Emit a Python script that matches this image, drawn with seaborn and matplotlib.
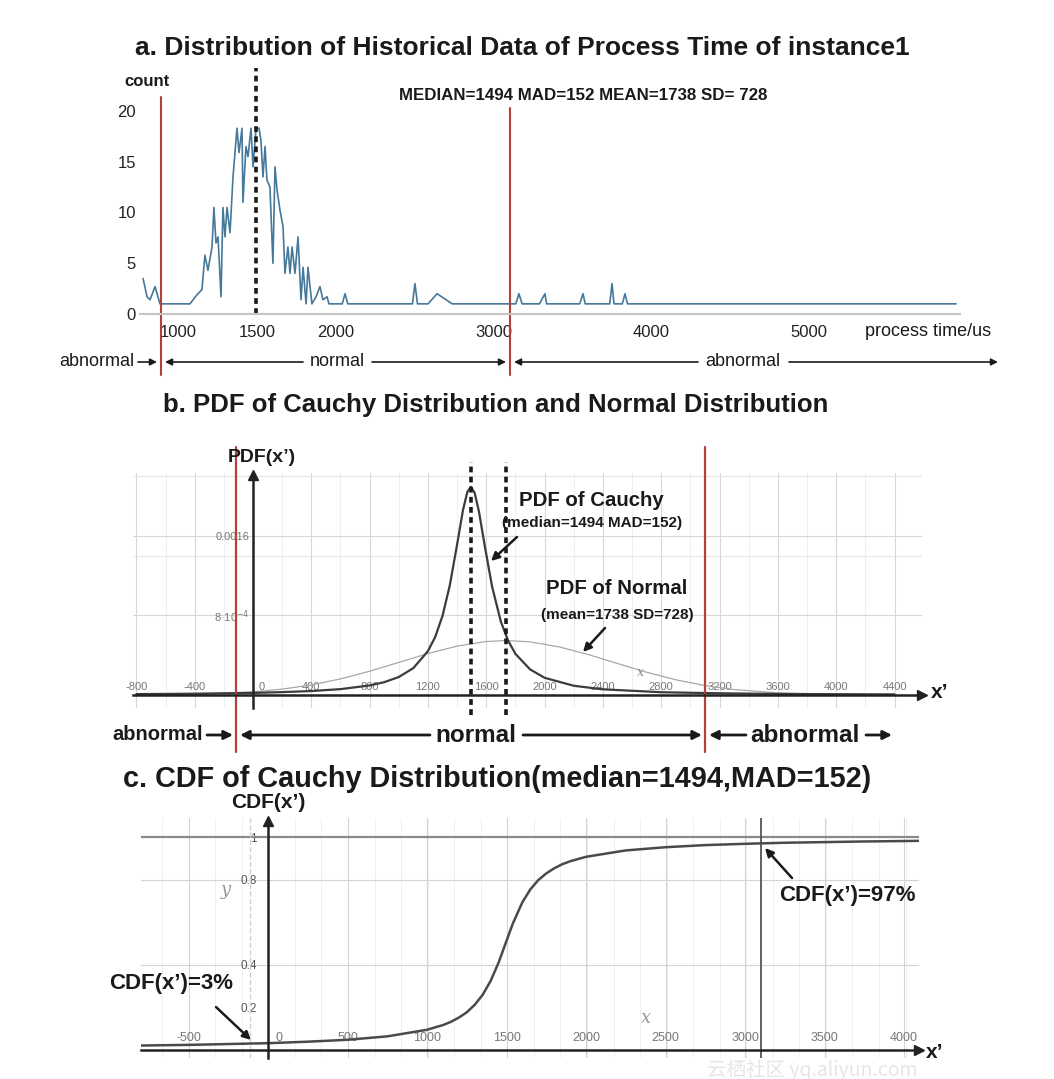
import matplotlib
matplotlib.use("Agg")
import matplotlib.pyplot as plt
from matplotlib.ticker import FixedLocator, MultipleLocator
from matplotlib.transforms import ScaledTranslation
import seaborn as sns

# ---------------- data ----------------
# panel a: counts of historical process time (us)
proc_time = [778, 803, 822, 854, 885, 917, 1075, 1120, 1151, 1170, 1189, 1215, 1227, 1240,
             1253, 1272, 1284, 1297, 1310, 1329, 1348, 1373, 1386, 1405, 1411, 1430, 1443,
             1462, 1475, 1494, 1513, 1525, 1538, 1551, 1563, 1582, 1601, 1614, 1627, 1646,
             1665, 1677, 1696, 1709, 1722, 1741, 1760, 1779, 1792, 1811, 1823, 1848, 1874,
             1899, 1918, 1944, 1956, 2040, 2058, 2075, 2485, 2501, 2517, 2584, 2641, 2737,
             3140, 3160, 3180, 3290, 3325, 3335, 3545, 3566, 3580, 3735, 3750, 3762, 3815,
             3832, 3848, 5930]
counts = [3.5, 1.7, 1.4, 2.7, 1, 1, 1, 1.9, 2.4, 5.8, 4.3, 6.6, 10.5, 7,
          7.6, 1.7, 10.5, 7.6, 10.5, 8, 13.5, 18.3, 15.9, 18.3, 11, 16.5, 15.5,
          18.3, 14.5, 18.3, 18.3, 17.1, 13.5, 16.5, 13.2, 12.5, 5, 14.5, 12.2, 10.2,
          8.6, 4, 6.6, 4, 6.6, 4, 7.6, 1.4, 4.6, 1, 4.6, 1, 1.7,
          2.7, 1.4, 1.7, 1, 1, 2, 1, 1, 3, 1, 1, 2, 1,
          1, 2, 1, 1, 2, 1, 1, 2, 1, 1, 3, 1, 1,
          2, 1, 1]
a_ticks = [1000, 1500, 2000, 3000, 4000, 5000]
a_bounds = [890, 3102]
a_red_top = [21.4, 20.3]

# panel b: pdf curves (values in 1e-4)
pdf_x = [-800, -400, 0, 200, 400, 600, 800, 900, 1000, 1100, 1200, 1250, 1300, 1350, 1400,
         1440, 1470, 1494, 1520, 1550, 1590, 1640, 1700, 1750, 1800, 1900, 2000, 2200,
         2400, 2800, 3200, 3600, 4000, 4400]
cauchy_pdf = [0.09, 0.13, 0.21, 0.29, 0.40, 0.59, 0.96, 1.29, 1.81, 2.71, 4.42, 5.85, 7.97,
              11.04, 15.15, 18.59, 20.43, 20.94, 20.35, 18.44, 14.97, 10.89, 7.38, 5.46,
              4.14, 2.58, 1.73, 0.93, 0.57, 0.28, 0.17, 0.11, 0.08, 0.06]
normal_x = [-800, -400, 0, 200, 400, 600, 800, 1000, 1200, 1400, 1600, 1738, 1900, 2100,
            2300, 2500, 2700, 2900, 3100, 3300, 3600, 4000, 4400]
normal_pdf = [0.01, 0.07, 0.32, 0.59, 1.01, 1.62, 2.39, 3.28, 4.17, 4.92, 5.38, 5.48, 5.35,
              4.84, 4.07, 3.17, 2.29, 1.53, 0.95, 0.55, 0.21, 0.04, 0.01]
b_xticks = [-800, -400, 0, 400, 800, 1200, 1600, 2000, 2400, 2800, 3200, 3600, 4000, 4400]
b_ytick_vals = [0.0008, 0.0016]
b_ytick_labels = ["8·10$^{-4}$", "0.0016"]
b_grid_minor_y = [0.0014, 0.0022]
median, mean = 1494, 1738
bounds = [-114, 3102]

# panel c: cdf curve
cdf_x = [-800, -500, -250, 0, 250, 500, 750, 1000, 1100, 1150, 1200, 1250, 1300, 1350, 1400,
         1450, 1494, 1540, 1600, 1650, 1700, 1750, 1800, 1850, 1900, 2000, 2250, 2500,
         2750, 3000, 3250, 3500, 3750, 4000, 4090]
cdf_y = [0.021, 0.024, 0.028, 0.032, 0.039, 0.048, 0.064, 0.095, 0.117, 0.132, 0.152, 0.177,
         0.212, 0.259, 0.324, 0.410, 0.5, 0.594, 0.694, 0.754, 0.798, 0.829, 0.853, 0.872,
         0.886, 0.907, 0.937, 0.952, 0.962, 0.968, 0.973, 0.976, 0.979, 0.981, 0.982]
c_xticks = [-500, 0, 500, 1000, 1500, 2000, 2500, 3000, 3500, 4000]
c_ytick_vals = [0.2, 0.4, 0.8, 1]
c_ytick_labels = ["0.2", "0.4", "0.8", "1"]
c_grid_y = [0.4, 0.8]

RED = "#b3413a"
GRAY_TXT = "#777777"

sns.set_theme(style="white")
plt.rcParams['font.family'] = ['Liberation Sans', 'DejaVu Sans']
plt.rcParams['axes.unicode_minus'] = False

W, H = 1054, 1079
fig = plt.figure(figsize=(W / 100, H / 100), dpi=100)


def rect(l, t, r, b):
    return [l / W, 1 - b / H, (r - l) / W, (b - t) / H]


def lim(p0, p1, origin, scale):
    return ((p0 - origin) / scale, (p1 - origin) / scale)


def shift_zero_label(ax, ticks, dx_px):
    # move the "0" label off the vertical axis line
    tk = ax.xaxis.get_major_ticks()[ticks.index(0)]
    tk.label1.set_horizontalalignment('left')
    tk.label1.set_transform(tk.label1.get_transform()
                            + ScaledTranslation(dx_px / 100, 0, fig.dpi_scale_trans))


# ---------------- panel a ----------------
ax_a = fig.add_axes(rect(140, 70, 960, 314))
ax_a.set_facecolor('none')
ax_a.set_xlim(*lim(140, 960, 20.3, 0.1578))
ax_a.set_ylim(0, (314 - 70) / 10.15)
sns.lineplot(x=proc_time, y=counts, ax=ax_a, color="#46789a", lw=1.2, estimator=None)
for s in ['top', 'left', 'right']:
    ax_a.spines[s].set_visible(False)
ax_a.spines['bottom'].set_color('#c4c4c4')
ax_a.spines['bottom'].set_linewidth(1.5)
ax_a.set_xticks(a_ticks)
ax_a.set_yticks([0, 5, 10, 15, 20])
ax_a.tick_params(axis='x', length=0, pad=8, labelsize=12, labelcolor='#222222')
ax_a.tick_params(axis='y', length=0, pad=3, labelsize=12, labelcolor='#222222')
for b, top in zip(a_bounds, a_red_top):
    ax_a.plot([b, b], [-6.0, top], color=RED, lw=1.5, clip_on=False)
ax_a.plot([median, median], [0, 24.2], color='k', lw=2.6, ls=(0, (1.6, 1.2)), clip_on=False)

# ---------------- panel b ----------------
bx0, bsx = 253, 0.1458
by0, bsy = 695, 99400
ax_b = fig.add_axes(rect(133, 473, 922, 708))
ax_b.set_facecolor('none')
ax_b.set_xlim(*lim(133, 922, bx0, bsx))
ax_b.set_ylim(-(708 - by0) / bsy, (by0 - 473) / bsy)
ax_b.set_xticks(b_xticks)
ax_b.xaxis.set_minor_locator(MultipleLocator(100))
ax_b.yaxis.set_major_locator(FixedLocator(b_ytick_vals))
ax_b.yaxis.set_minor_locator(MultipleLocator(0.0002))
ax_b.set_yticklabels(b_ytick_labels)
ax_b.grid(which='major', color='#d8d8d8', lw=0.8)
for gx in range(-800, 4600, 200):
    ax_b.axvline(gx, color='#eeeeee', lw=0.7, zorder=0)
for gy in b_grid_minor_y:
    ax_b.axhline(gy, color='#e6e6e6', lw=0.8, zorder=0)
ax_b.set_axisbelow(True)
sns.lineplot(x=normal_x, y=[v * 1e-4 for v in normal_pdf], ax=ax_b, color='#a8a8a8', lw=0.9,
             estimator=None)
sns.lineplot(x=pdf_x, y=[v * 1e-4 for v in cauchy_pdf], ax=ax_b, color='#3c3c3c', lw=1.6,
             estimator=None)
for s in ['top', 'right']:
    ax_b.spines[s].set_visible(False)
for s in ['left', 'bottom']:
    ax_b.spines[s].set_position(('data', 0))
    ax_b.spines[s].set_color('#222222')
    ax_b.spines[s].set_linewidth(1.8)
ax_b.spines['left'].set_bounds(ax_b.get_ylim()[0], 0.00221)
ax_b.tick_params(which='major', direction='inout', length=7, width=1.3, color='#222222')
ax_b.tick_params(which='minor', direction='inout', length=4, width=1.0, color='#222222')
ax_b.tick_params(axis='x', which='major', pad=-13, labelsize=8, labelcolor=GRAY_TXT)
ax_b.tick_params(axis='y', which='major', pad=-1, labelsize=8, labelcolor=GRAY_TXT)
shift_zero_label(ax_b, b_xticks, 6)
ax_b.plot(1, 0, '>', color='#222222', ms=7, transform=ax_b.get_yaxis_transform(), clip_on=False)
ax_b.plot(0, 0.00221, '^', color='#222222', ms=7, clip_on=False)
for b in bounds:
    ax_b.plot([b, b], [-0.000573, 0.002495], color=RED, lw=1.6, clip_on=False)
for m in [median, mean]:
    ax_b.plot([m, m], [-0.000201, 0.002344], color='k', lw=2.6, ls=(0, (1.6, 1.2)),
              clip_on=False)

# ---------------- panel c ----------------
cx0, csx = 268, 0.159
cy0, csy = 1050, 213
ax_c = fig.add_axes(rect(141, 818, 919, 1058))
ax_c.set_facecolor('none')
ax_c.set_xlim(*lim(141, 919, cx0, csx))
ax_c.set_ylim(-(1058 - cy0) / csy, (cy0 - 818) / csy)
ax_c.set_xticks(c_xticks)
ax_c.xaxis.set_minor_locator(MultipleLocator(100))
ax_c.yaxis.set_major_locator(FixedLocator(c_ytick_vals))
ax_c.yaxis.set_minor_locator(MultipleLocator(0.1))
ax_c.set_yticklabels(c_ytick_labels)
ax_c.grid(axis='x', which='major', color='#d4d4d4', lw=0.8)
for gx in range(-666, 4100, 167):
    ax_c.axvline(gx, color='#eeeeee', lw=0.6, zorder=0)
for gy in c_grid_y:
    ax_c.axhline(gy, color='#d4d4d4', lw=0.8, zorder=0)
ax_c.axhline(1.0, color='#8a8a8a', lw=1.6, zorder=1)
ax_c.axvline(bounds[1], color='#555555', lw=1.3, zorder=1)
ax_c.axvline(bounds[0], color='#cfcfcf', lw=1.0, ls='--', zorder=1)
sns.lineplot(x=cdf_x, y=cdf_y, ax=ax_c, color='#4a4a4a', lw=1.8, estimator=None)
for s in ['top', 'right']:
    ax_c.spines[s].set_visible(False)
for s in ['left', 'bottom']:
    ax_c.spines[s].set_position(('data', 0))
    ax_c.spines[s].set_color('#222222')
    ax_c.spines[s].set_linewidth(1.8)
ax_c.spines['left'].set_bounds(ax_c.get_ylim()[0], 1.075)
ax_c.tick_params(which='major', direction='inout', length=8, width=1.3, color='#222222')
ax_c.tick_params(which='minor', direction='inout', length=4, width=1.0, color='#222222')
ax_c.tick_params(axis='x', which='major', pad=-17, labelsize=9, labelcolor=GRAY_TXT)
ax_c.tick_params(axis='y', which='major', pad=4, labelsize=8.5, labelcolor='#555555')
shift_zero_label(ax_c, c_xticks, 7)
ax_c.plot(1, 0, '>', color='#222222', ms=7, transform=ax_c.get_yaxis_transform(), clip_on=False)
ax_c.plot(0, 1.075, '^', color='#222222', ms=7, clip_on=False)

# ---------------- overlay: titles, labels, arrows ----------------
ov = fig.add_axes([0, 0, 1, 1])
ov.set_xlim(0, W)
ov.set_ylim(H, 0)
ov.axis('off')


def txt(x, y, s, size, bold=True, **kw):
    ov.text(x, y, s, fontsize=size, fontweight='bold' if bold else 'normal',
            ha=kw.pop('ha', 'center'), va='center', color=kw.pop('color', '#1a1a1a'), **kw)


def arrow(tail, head, lw=1.2, ms=10):
    ov.annotate("", xy=head, xytext=tail,
                arrowprops=dict(arrowstyle="-|>", color='k', lw=lw, mutation_scale=ms,
                                shrinkA=0, shrinkB=0))


txt(522, 48, "a. Distribution of Historical Data of Process Time of instance1", 19)
txt(147, 82, "count", 12)
txt(583, 96, "MEDIAN=1494 MAD=152 MEAN=1738 SD= 728", 12.2)
txt(928, 331, "process time/us", 13, bold=False)
txt(134, 362, "abnormal", 13, bold=False, ha='right')
arrow((138, 362), (157, 362))
arrow((303, 362), (165, 362))
txt(337, 362, "normal", 13, bold=False)
arrow((372, 362), (506, 362))
arrow((698, 362), (514, 362))
txt(743, 362, "abnormal", 13, bold=False)
arrow((789, 362), (998, 362))

txt(496, 405, "b. PDF of Cauchy Distribution and Normal Distribution", 18.5)
txt(262, 457, "PDF(x’)", 14)
txt(591, 501, "PDF of Cauchy", 14.7)
txt(592, 523, "(median=1494 MAD=152)", 11)
arrow((517, 537), (491, 561), lw=1.8, ms=12)
txt(617, 589, "PDF of Normal", 14.7)
txt(617, 615, "(mean=1738 SD=728)", 11)
arrow((605, 628), (583, 652), lw=1.8, ms=12)
ov.text(640, 672, "x", fontsize=9, style='italic', family='serif', color='#888888',
        ha='center', va='center')
txt(940, 693, "x’", 15)
txt(158, 735, "abnormal", 14.5)
arrow((207, 735), (233, 735), lw=2, ms=13)
arrow((430, 735), (240, 735), lw=2, ms=13)
txt(476, 735, "normal", 17.5)
arrow((523, 735), (702, 735), lw=2, ms=13)
arrow((746, 735), (709, 735), lw=2, ms=13)
txt(805, 735, "abnormal", 17.5)
arrow((866, 735), (892, 735), lw=2, ms=13)

txt(497, 779, "c. CDF of Cauchy Distribution(median=1494,MAD=152)", 20.8)
txt(268, 803, "CDF(x’)", 15)
ov.text(226, 890, "y", fontsize=13, style='italic', family='serif', color='#999999',
        ha='center', va='center')
ov.text(646, 1018, "x", fontsize=13, style='italic', family='serif', color='#999999',
        ha='center', va='center')
txt(847, 895, "CDF(x’)=97%", 16)
arrow((792, 878), (765, 848), lw=1.8, ms=12)
txt(171, 983, "CDF(x’)=3%", 16)
arrow((216, 1007), (251, 1040), lw=1.8, ms=12)
txt(935, 1052, "x’", 15)
ov.text(812, 1070, "云栖社区 yq.aliyun.com", fontsize=14, color='#e6e6e6', ha='center',
        va='center', family=['Noto Sans CJK SC', 'DejaVu Sans'], zorder=0)

fig.savefig("out.png", dpi=100)
